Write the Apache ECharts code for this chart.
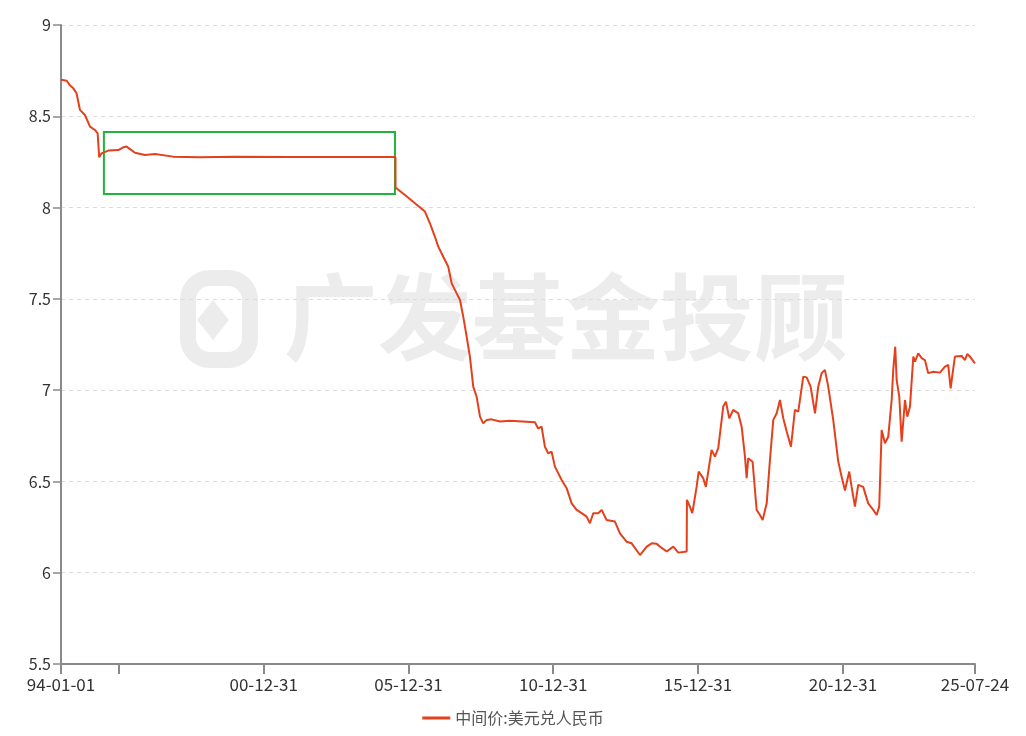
<!DOCTYPE html>
<html>
<head>
<meta charset="utf-8">
<script src="https://cdn.jsdelivr.net/npm/echarts@6/dist/echarts.min.js"></script>
<style>
html,body{margin:0;padding:0;background:#fff;}
#chart{width:1026px;height:736px;}
</style>
</head>
<body>
<div id="chart"></div>
<script>
const seriesName = '中间价:美元兑人民币';
const dates = [
'1994-01-01','1994-03-15','1994-04-22','1994-06-05','1994-07-16','1994-08-28','1994-10-30','1995-01-02','1995-03-05','1995-04-08',
'1995-04-28','1995-05-28','1995-08-20','1995-12-25','1996-02-25','1996-04-08','1996-07-22','1996-11-24','1997-03-31','1997-11-13',
'1998-10-19','2000-01-01','2002-01-01','2004-01-01','2005-07-20','2005-07-21','2005-08-04','2005-11-17','2006-03-23','2006-05-04',
'2006-07-27','2006-09-28','2006-11-30','2007-01-11','2007-03-15','2007-05-17','2007-06-29','2007-08-31','2007-10-12','2007-11-23',
'2008-01-04','2008-02-14','2008-03-27','2008-05-09','2008-06-20','2008-07-31','2008-09-13','2008-11-14','2009-02-27','2009-07-03',
'2010-05-14','2010-06-24','2010-08-06','2010-09-17','2010-10-28','2010-12-10','2011-01-21','2011-04-16','2011-06-18','2011-08-20',
'2011-10-22','2011-12-24','2012-02-25','2012-04-07','2012-05-18','2012-07-20','2012-09-01','2012-11-03','2013-02-16','2013-04-20',
'2013-07-13','2013-09-15','2013-12-29','2014-03-24','2014-05-26','2014-07-28','2014-09-07','2014-12-01','2015-02-22','2015-04-26',
'2015-08-10','2015-08-13','2015-09-19','2015-10-20','2015-12-13','2016-01-08','2016-03-05','2016-04-08','2016-06-19','2016-07-31',
'2016-09-11','2016-11-13','2016-12-17','2017-01-28','2017-03-19','2017-05-21','2017-07-03','2017-08-14','2017-09-04','2017-09-24',
'2017-11-18','2018-01-08','2018-02-19','2018-03-25','2018-05-15','2018-06-25','2018-08-06','2018-09-18','2018-10-29','2018-12-10',
'2019-01-22','2019-03-17','2019-05-06','2019-06-17','2019-08-19','2019-10-01','2019-11-20','2020-01-14','2020-02-24','2020-04-07',
'2020-05-18','2020-06-29','2020-08-31','2020-11-02','2020-12-15','2021-01-26','2021-03-21','2021-04-20','2021-06-01','2021-07-12',
'2021-09-13','2021-11-15','2022-01-18','2022-03-02','2022-04-03','2022-05-04','2022-06-14','2022-07-26','2022-09-07','2022-09-27',
'2022-10-22','2022-11-09','2022-12-12','2023-01-11','2023-02-22','2023-03-23','2023-04-26','2023-06-07','2023-06-28','2023-08-08',
'2023-09-20','2023-10-31','2023-12-12','2024-02-13','2024-05-08','2024-07-10','2024-08-20','2024-09-20','2024-10-15','2024-11-13',
'2025-02-06','2025-03-20','2025-04-17','2025-05-21','2025-07-24'
];
const rates = [
8.700,8.695,8.670,8.653,8.626,8.535,8.507,8.443,8.425,8.407,
8.275,8.297,8.312,8.315,8.330,8.334,8.300,8.288,8.294,8.279,
8.276,8.279,8.277,8.277,8.277,8.110,8.100,8.069,8.024,8.009,
7.978,7.914,7.840,7.786,7.731,7.676,7.585,7.530,7.494,7.400,
7.293,7.183,7.019,6.964,6.855,6.818,6.837,6.840,6.828,6.833,
6.824,6.790,6.800,6.690,6.654,6.663,6.581,6.508,6.463,6.380,
6.344,6.326,6.307,6.271,6.326,6.326,6.344,6.289,6.280,6.216,
6.170,6.161,6.097,6.143,6.161,6.158,6.143,6.116,6.143,6.110,
6.116,6.399,6.362,6.326,6.470,6.554,6.518,6.470,6.673,6.636,
6.682,6.910,6.937,6.846,6.892,6.873,6.800,6.636,6.518,6.627,
6.608,6.344,6.316,6.289,6.380,6.618,6.837,6.873,6.946,6.846,
6.773,6.690,6.892,6.882,7.074,7.070,7.019,6.873,7.019,7.093,
7.111,7.019,6.837,6.610,6.526,6.450,6.554,6.470,6.362,6.481,
6.470,6.380,6.344,6.316,6.362,6.782,6.709,6.745,6.946,7.111,
7.238,7.056,6.964,6.718,6.946,6.855,6.910,7.184,7.156,7.202,
7.175,7.165,7.093,7.101,7.096,7.129,7.138,7.010,7.093,7.184,
7.187,7.165,7.198,7.184,7.147
];
const xMin = '1994-01-01';
const xMax = '2025-07-24';
const tickDates = ['1994-01-01','1995-12-31','2000-12-31','2005-12-31','2010-12-31','2015-12-31','2020-12-31','2025-07-24'];
const labelDates = ['1994-01-01','2000-12-31','2005-12-31','2010-12-31','2015-12-31','2020-12-31','2025-07-24'];
const yTicks = {min: 5.5, max: 9, interval: 0.5};
const boxRange = {x0: '1995-06-26', x1: '2005-07-14', y0: 8.074, y1: 8.414};
const watermark = '广发基金投顾';

function ts(s){ const p = s.split('-'); return Date.UTC(+p[0], +p[1]-1, +p[2]); }
function pad(n){ return (n<10?'0':'')+n; }
function fmt(v){ const d = new Date(v); return pad(d.getUTCFullYear()%100)+'-'+pad(d.getUTCMonth()+1)+'-'+pad(d.getUTCDate()); }

const data = dates.map((d,i)=>[ts(d), rates[i]]);
const font = '"Noto Sans CJK SC", "Noto Sans", sans-serif';
const wmColor = '#ececec';

const chart = echarts.init(document.getElementById('chart'), null, {renderer:'canvas'});
chart.setOption({
  animation: false,
  backgroundColor: '#ffffff',
  textStyle: {fontFamily: font},
  graphic: [
    {type:'rect', left:180, top:270, shape:{width:62, height:82, r:22}, style:{fill:'none', stroke:wmColor, lineWidth:16}, z:0},
    {type:'polygon', shape:{points:[[213,300],[229,320],[213,340],[197,320]]}, style:{fill:wmColor}, z:0},
    {type:'text', left:284, top:270, style:{text:watermark, fontSize:94, fontWeight:'bold', fill:wmColor, fontFamily:font}, z:0}
  ],
  grid: {left:61, right:51, top:25, bottom:72, containLabel:false},
  legend: {
    bottom: 5, left: 'center',
    itemWidth: 28, itemHeight: 3, itemGap: 8,
    icon: 'rect',
    textStyle: {fontSize: 16, color: '#555', fontFamily: font},
    data: [seriesName]
  },
  xAxis: {
    type: 'value',
    min: ts(xMin), max: ts(xMax),
    scale: true,
    axisLine: {lineStyle: {color: '#8a8a8a', width: 2}},
    axisTick: {show: true, length: 10, lineStyle: {color: '#8a8a8a', width: 2}, customValues: tickDates.map(ts)},
    axisLabel: {customValues: labelDates.map(ts), formatter: fmt, fontSize: 17, color: '#333', margin: 12, fontFamily: font},
    splitLine: {show: false}
  },
  yAxis: {
    type: 'value',
    min: yTicks.min, max: yTicks.max, interval: yTicks.interval,
    axisLine: {show: true, lineStyle: {color: '#8a8a8a', width: 2}},
    axisTick: {show: true, length: 8, lineStyle: {color: '#8a8a8a', width: 1.5}},
    axisLabel: {fontSize: 16, color: '#333', margin: 10, fontFamily: font},
    splitLine: {show: true, lineStyle: {color: '#dcdcdc', type: [4, 4], width: 1}}
  },
  series: [{
    name: seriesName,
    type: 'line',
    data: data,
    showSymbol: false,
    symbol: 'none',
    lineStyle: {color: '#e4401c', width: 2},
    itemStyle: {color: '#e4401c'},
    z: 3,
    markArea: {
      silent: true,
      itemStyle: {color: 'rgba(0,0,0,0)', borderColor: '#22b43a', borderWidth: 2},
      data: [[{coord: [ts(boxRange.x0), boxRange.y1]}, {coord: [ts(boxRange.x1), boxRange.y0]}]]
    }
  }]
});
</script>
</body>
</html>
